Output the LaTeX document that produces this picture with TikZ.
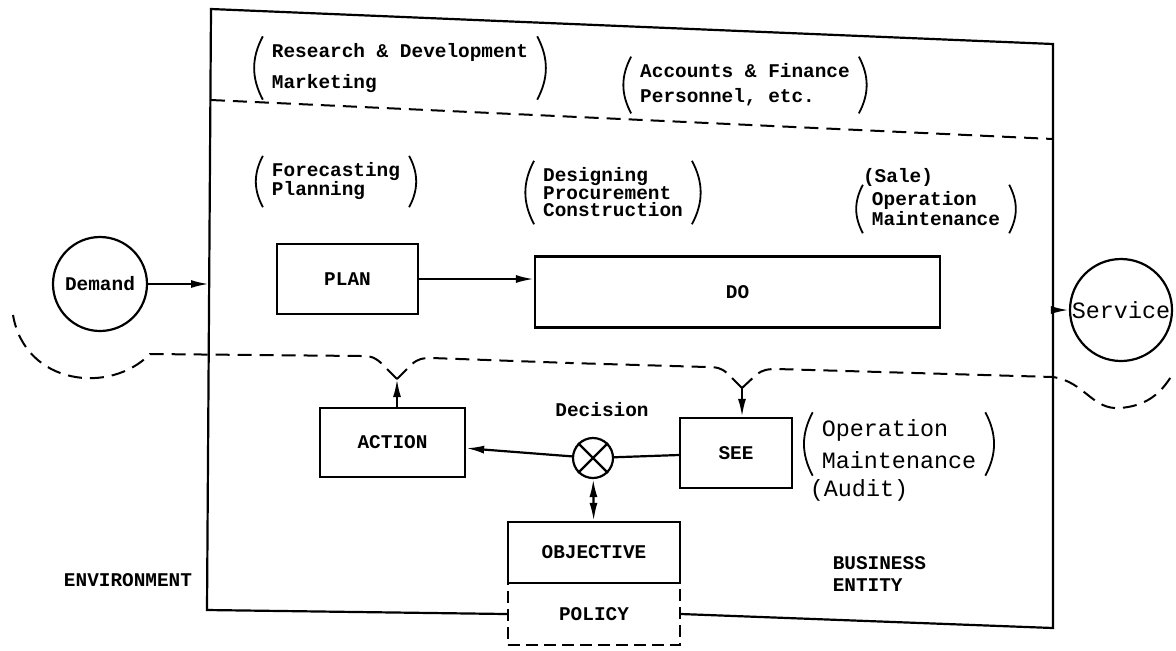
\documentclass[tikz,border=0pt]{standalone}
\usepackage{fontspec}
\setmonofont{Liberation Mono}
\usetikzlibrary{arrows.meta}
\newcommand{\tw}[1][10]{\ttfamily\bfseries\fontsize{9.7}{#1}\selectfont}
\newcommand{\twl}[1][14]{\ttfamily\fontsize{11.7}{#1}\selectfont}
\newcommand{\parens}[1]{\draw[bow] (#1.north west) to[bend right=28] (#1.south west); \draw[bow] (#1.north east) to[bend left=28] (#1.south east);}
\begin{document}
\begin{tikzpicture}[x=0.5pt,y=-0.5pt,line width=1.1pt,
	box/.style={draw,rectangle,inner sep=0pt,font=\tw},
	ring/.style={draw,circle,inner sep=0pt},
	txt/.style={align=left,inner xsep=4pt,inner ysep=3pt,font=\tw},
	bow/.style={line width=0.9pt},
	arr/.style={-{Latex[length=9pt,width=4pt]}},
	fb/.style={dash pattern=on 7pt off 4pt,line width=1pt}]
	%\draw[gray!15] (0,0) grid[xstep=50,ystep=50] (1176,650); %Hilfsgitter
	\useasboundingbox (0,0) rectangle (1176,650);
	\node[txt,font={\tw[15.5]}] (rd) at (400,68) {Research \& Development\\Marketing}; \node[txt,font={\tw[12.5]}] (af) at (745,85) {Accounts \& Finance\\Personnel, etc.};
	\node[txt,font={\tw[9.5]}] (fp) at (336,181.5) {Forecasting\\Planning}; \node[txt,font={\tw[8.75]}] (dpc) at (613,192.5) {Designing\\Procurement\\Construction};
	\node[font=\tw,inner sep=0pt] (sale) at (898,177) {(Sale)}; \node[txt,font={\tw[9]}] (om) at (936,209) {Operation\\Maintenance};
	\parens{rd} \parens{af} \parens{fp} \parens{dpc} \parens{om}
	
	\node[box,minimum width=70.5pt,minimum height=35pt] (plan) at (347.5,279) {PLAN}; \node[box,minimum width=202.5pt,minimum height=35.5pt] (do) at (737.5,292) {DO};
	\node[ring,minimum size=47pt,font=\tw] (dem) at (100,284) {Demand}; \node[ring,minimum size=51pt,font=\twl] (srv) at (1121,310) {Service};
	\coordinate (inL) at (209,284); \coordinate (outR) at (1053,310);
	\draw[arr] (dem) -- (inL); \draw[arr] (outR) -- (srv); \draw[arr] (plan) -- (plan -| do.west);
	
	\node[box,minimum width=72.5pt,minimum height=34.5pt] (act) at (392.5,442.5) {ACTION}; \node[box,minimum width=56pt,minimum height=35pt] (see) at (736,453) {SEE};
	\node[ring,minimum size=20pt] (dec) at (593,458) {}; \draw (dec.north west) -- (dec.south east) (dec.north east) -- (dec.south west);
	\node[font=\tw] (decl) at (602,410) {Decision};
	\node[box,dash pattern=on 6pt off 3pt,minimum width=86pt,minimum height=31pt] (pol) at (594,614) {POLICY}; \node[box,fill=white,minimum width=86pt,minimum height=30.5pt] (obj) at (594,552.5) {OBJECTIVE};
	\draw[arr] (dec) -- (act); \draw (dec) -- (see); \draw[{Latex[length=9pt,width=4pt]}-{Latex[length=9pt,width=4pt]}] (dec) -- (obj);
	\node[txt,font={\twl[16]}] (om2) at (899,444) {Operation\\Maintenance}; \parens{om2}
	\node[font=\twl,inner sep=0pt] (aud) at (859,490) {(Audit)};
	
	% feedback loop, every arm starts at its junction
	\coordinate (yA) at (397,379); \coordinate (yS) at (742,388);
	\draw[arr] (act.north -| yA) -- (yA); \draw[arr] (yS) -- (yS |- see.north);
	\draw[fb] (yA) -- (382,364) .. controls (376,358) and (372,356) .. (362,356) -- (150,354) .. controls (110,395) and (25,385) .. (13,315);
	\draw[fb] (yA) -- (412,364) .. controls (418,359) and (422,358) .. (432,358) -- (570,363);
	\draw[fb] (yS) -- (727,373) .. controls (721,368) and (717,367) .. (707,367) -- (570,363);
	\draw[fb] (yS) -- (757,374) .. controls (763,370) and (767,369) .. (777,369) -- (1053,377) .. controls (1085,382) and (1092,410) .. (1120,408) .. controls (1145,406) and (1160,395) .. (1172,375);
	
	\draw (pol.west) -- (207,610) -- (211,9) -- (1053,44) -- (1053,628) -- (pol.east); \draw[fb] (211,100) -- (1053,139);
	\node[font={\tw[11]},align=left,anchor=west] (be) at (825,574) {BUSINESS\\ENTITY}; \node[font=\tw] (env) at (128,580) {ENVIRONMENT};
\end{tikzpicture}
\end{document}
